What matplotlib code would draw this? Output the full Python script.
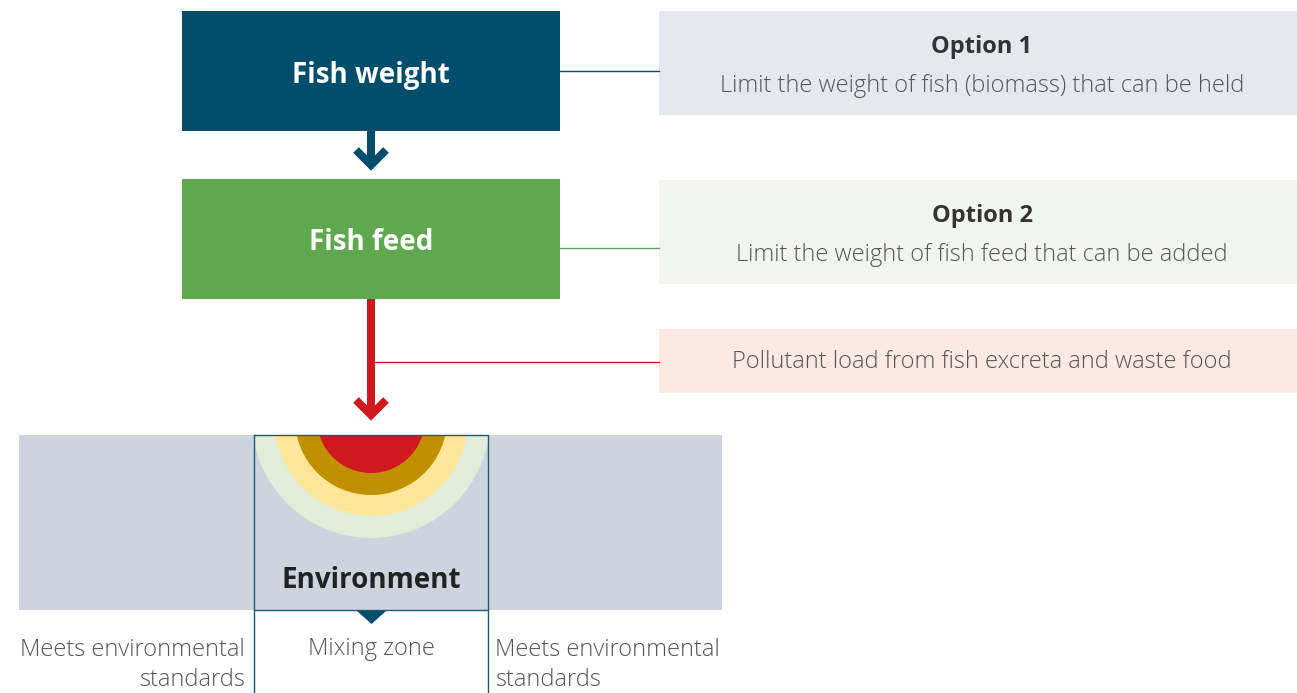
import matplotlib.pyplot as plt
from matplotlib.patches import Rectangle, Circle, Polygon
import numpy as np

plt.rcParams['font.family'] = ['Open Sans', 'DejaVu Sans']

# boxes of the flow: label, face colour, top, bottom
flow_labels = ["Fish weight", "Fish feed"]
flow_colors = ["#004e6b", "#5fa84f"]
flow_top = [11, 179]
flow_bottom = [131, 299]

# side notes: heading, text, face colour, top, bottom, connector y
note_heads = ["Option 1", "Option 2", ""]
note_texts = ["Limit the weight of fish (biomass) that can be held",
              "Limit the weight of fish feed that can be added",
              "Pollutant load from fish excreta and waste food"]
note_colors = ["#e5e8ee", "#f2f5ef", "#fbe9e2"]
note_top = [11, 180, 329]
note_bottom = [115, 284, 393]
link_y = [71, 248, 362]
link_colors = ["#004e6b", "#5fa84f", "#d0191f"]

# rings of the plume, outer first
ring_radius = [119, 97, 76, 54]
ring_colors = ["#e1edd9", "#fde699", "#c09000", "#d0191f"]

zone_labels = ["Meets environmental\nstandards", "Mixing zone", "Meets environmental\nstandards"]

teal = "#1d5a73"
dark = "#333333"
grey = "#555555"

fig = plt.figure(figsize=(12.97, 6.93), dpi=100)
ax = fig.add_axes([0, 0, 1, 1])
ax.set_xlim(0, 1297)
ax.set_ylim(693, 0)
ax.axis('off')

cx = 371
px = 100 / 72  # pixels per point

# flow boxes
for lab, col, t, b in zip(flow_labels, flow_colors, flow_top, flow_bottom):
    ax.add_patch(Rectangle((182, t), 378, b - t, facecolor=col, edgecolor='none'))
    ax.text(cx, (t + b) / 2 + 4, lab, color='white', fontsize=20, fontweight='bold',
            ha='center', va='center')

# notes on the right
for head, txt, col, t, b in zip(note_heads, note_texts, note_colors, note_top, note_bottom):
    ax.add_patch(Rectangle((659, t), 638, b - t, facecolor=col, edgecolor='none'))
    if head:
        ax.text(982, t + 36, head, color=dark, fontsize=17, fontweight='bold',
                ha='center', va='center')
        ax.text(982, t + 75, txt, color=grey, fontsize=17, fontweight='light',
                ha='center', va='center')
    else:
        ax.text(982, (t + b) / 2 + 1, txt, color=grey, fontsize=17, fontweight='light',
                ha='center', va='center')

# connectors
ax.plot([560, 659], [link_y[0], link_y[0]], color=link_colors[0], lw=1.0)
ax.plot([560, 659], [link_y[1], link_y[1]], color=link_colors[1], lw=1.0)
ax.plot([373, 659], [link_y[2], link_y[2]], color=link_colors[2], lw=1.0)

# arrows (stem + chevron)
def arrow(y0, tip, col):
    ax.plot([cx, cx], [y0, tip - 3], color=col, lw=8 / px, solid_capstyle='butt')
    ax.plot([cx - 15, cx, cx + 15], [tip - 18, tip - 3, tip - 18], color=col, lw=8 / px,
            solid_joinstyle='miter', solid_capstyle='butt')

arrow(131, 168, "#004e6b")
arrow(299, 418, "#d0191f")

# environment band
ax.add_patch(Rectangle((19, 435), 703, 175, facecolor="#cdd4de", edgecolor='none'))

# plume rings clipped to the mixing zone box
clip = Rectangle((254, 435), 234, 175, transform=ax.transData)
for r, col in zip(ring_radius, ring_colors):
    c = Circle((cx, 419), r, facecolor=col, edgecolor='none')
    ax.add_patch(c)
    c.set_clip_path(clip)

# mixing zone outline
ax.plot([254, 488, 488, 254, 254], [435, 435, 610, 610, 435], color=teal, lw=1.0)
ax.plot([254, 254], [610, 693], color=teal, lw=1.0)
ax.plot([488, 488], [610, 693], color=teal, lw=1.0)
ax.add_patch(Polygon([[357, 611], [386, 611], [371.5, 624]], closed=True,
                     facecolor="#004e6b", edgecolor='none'))

ax.text(cx, 580, "Environment", color="#222222", fontsize=20, fontweight='bold',
        ha='center', va='center')

# zone labels
ax.text(245, 665, zone_labels[0], color=grey, fontsize=17, fontweight='light',
        ha='right', va='center', linespacing=1.38)
ax.text(cx, 649, zone_labels[1], color=grey, fontsize=17, fontweight='light',
        ha='center', va='center')
ax.text(495, 665, zone_labels[2], color=grey, fontsize=17, fontweight='light',
        ha='left', va='center', linespacing=1.38)

fig.savefig("out.png", dpi=100)
